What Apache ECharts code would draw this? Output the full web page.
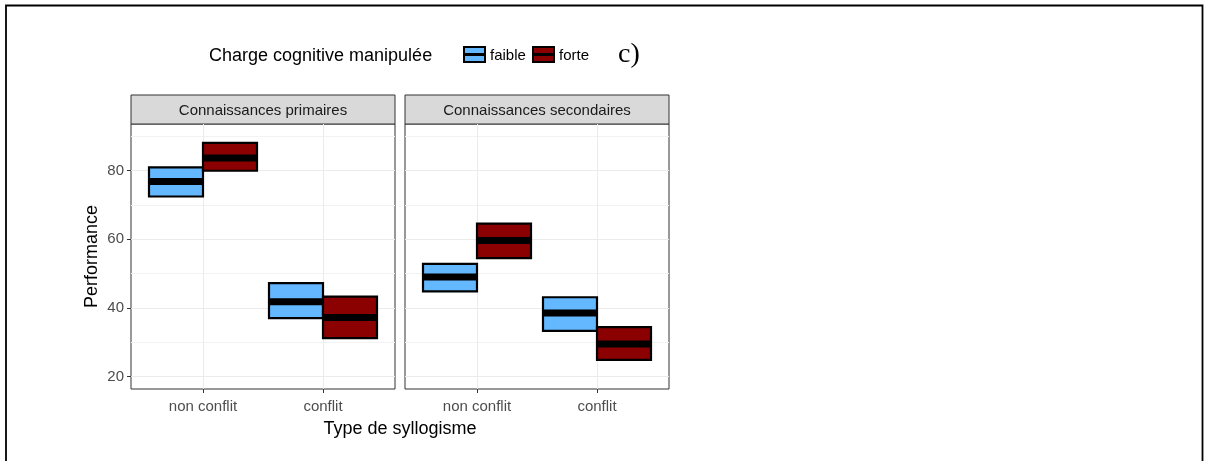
<!DOCTYPE html>
<html>
<head>
<meta charset="utf-8">
<script src="https://cdn.jsdelivr.net/npm/echarts@6/dist/echarts.min.js"></script>
<style>
  html, body { margin: 0; padding: 0; background: #fff; }
  #chart { width: 1206px; height: 461px; }
</style>
</head>
<body>
<div id="chart"></div>
<script>
// ---- data ----
const panels = ['Connaissances primaires', 'Connaissances secondaires'];
const categories = ['non conflit', 'conflit'];
const groups = ['faible', 'forte'];
// [low, mean, high] per category (non conflit, conflit)
const primairesFaible = [[72.4, 76.8, 80.9], [37.0, 41.8, 47.2]];
const primairesForte  = [[79.9, 83.6, 88.0], [31.2, 37.2, 43.3]];
const secondairesFaible = [[44.8, 49.0, 52.8], [33.3, 38.5, 43.1]];
const secondairesForte  = [[54.5, 59.6, 64.5], [24.9, 29.5, 34.4]];
const yTicks = [20, 40, 60, 80];
const yMinorTicks = [30, 50, 70, 90];
const xTicks = [1, 2];

// ---- style ----
const FONT = "'Liberation Sans', Arial, sans-serif";
const groupColors = { faible: '#63B8FF', forte: '#8B0000' };
const gridBoxes = [
  { left: 131, top: 124, width: 264, height: 265 },
  { left: 405, top: 124, width: 264, height: 265 }
];
const stripH = 29;
const yMin = 16.4, yMax = 93.5;
const halfW = 0.225;

function toItems(arr) {
  return arr.map((d, i) => [i + 1, d[0], d[1], d[2]]);
}

function makeRender(offset, color) {
  return function (params, api) {
    const x = api.value(0), lo = api.value(1), mid = api.value(2), hi = api.value(3);
    const tl = api.coord([x + offset - halfW, hi]);
    const br = api.coord([x + offset + halfW, lo]);
    const ml = api.coord([x + offset - halfW, mid]);
    const mr = api.coord([x + offset + halfW, mid]);
    return {
      type: 'group',
      children: [
        { type: 'rect', shape: { x: tl[0], y: tl[1], width: br[0] - tl[0], height: br[1] - tl[1] },
          style: { fill: color, stroke: '#000', lineWidth: 2.2 } },
        { type: 'line', shape: { x1: ml[0] + 1, y1: ml[1], x2: mr[0] - 1, y2: mr[1] },
          style: { stroke: '#000', lineWidth: 7 } }
      ]
    };
  };
}

const panelData = [
  { faible: primairesFaible, forte: primairesForte },
  { faible: secondairesFaible, forte: secondairesForte }
];

const grids = gridBoxes.map(b => Object.assign({}, b, {
  show: true, borderColor: '#333333', borderWidth: 1, backgroundColor: 'transparent'
}));

const xAxes = gridBoxes.map((b, i) => ({
  type: 'value', gridIndex: i, min: 0.4, max: 2.6,
  axisLine: { show: false },
  axisTick: { show: true, customValues: xTicks, length: 4, lineStyle: { color: '#333333', width: 1 } },
  axisLabel: { show: true, customValues: xTicks, margin: 10,
    formatter: v => categories[Math.round(v) - 1] || '',
    color: '#4D4D4D', fontSize: 15, fontFamily: FONT },
  splitLine: { show: true, lineStyle: { color: '#EBEBEB', width: 1 } }
}));

const yAxes = [];
gridBoxes.forEach((b, i) => {
  yAxes.push({
    type: 'value', gridIndex: i, min: yMin, max: yMax,
    axisLine: { show: false },
    axisTick: { show: i === 0, customValues: yTicks, length: 4, lineStyle: { color: '#333333', width: 1 } },
    axisLabel: { show: i === 0, customValues: yTicks, margin: 7,
      color: '#4D4D4D', fontSize: 15, fontFamily: FONT },
    splitLine: { show: true, lineStyle: { color: '#EBEBEB', width: 1 } }
  });
});
gridBoxes.forEach((b, i) => {
  yAxes.push({
    type: 'value', gridIndex: i, min: yMin, max: yMax,
    axisLine: { show: false },
    axisTick: { show: false, customValues: yMinorTicks },
    axisLabel: { show: false, customValues: yMinorTicks },
    splitLine: { show: true, lineStyle: { color: '#F2F2F2', width: 1 } }
  });
});

const series = [];
panelData.forEach((pd, i) => {
  groups.forEach((g, gi) => {
    series.push({
      type: 'custom', name: g, xAxisIndex: i, yAxisIndex: i,
      renderItem: makeRender(gi === 0 ? -halfW : halfW, groupColors[g]),
      encode: { x: 0, y: [1, 2, 3] },
      data: toItems(pd[g]),
      z: 5
    });
  });
});

function b0mid() { return gridBoxes[0].top + gridBoxes[0].height / 2; }

const graphic = [];
// outer frame
graphic.push({ type: 'polyline', shape: { points: [[6, 461], [6, 5.5], [1202.5, 5.5], [1202.5, 461]] },
  style: { stroke: '#000', lineWidth: 1.8, fill: null }, silent: true });
// strips
gridBoxes.forEach((b, i) => {
  graphic.push({ type: 'rect', shape: { x: b.left, y: b.top - stripH, width: b.width, height: stripH },
    style: { fill: '#D9D9D9', stroke: '#333333', lineWidth: 1 } });
  graphic.push({ type: 'text', x: b.left + b.width / 2, y: b.top - stripH / 2 + 1.5,
    style: { text: panels[i], align: 'center', verticalAlign: 'middle', fill: '#1A1A1A',
      fontSize: 15, fontFamily: FONT } });
});
// axis titles
graphic.push({ type: 'text', x: 92, y: b0mid(), rotation: Math.PI / 2,
  style: { text: 'Performance', align: 'center', verticalAlign: 'middle', fill: '#000',
    fontSize: 18, fontFamily: FONT } });
graphic.push({ type: 'text', x: (gridBoxes[0].left + gridBoxes[1].left + gridBoxes[1].width) / 2, y: 429,
  style: { text: 'Type de syllogisme', align: 'center', verticalAlign: 'middle', fill: '#000',
    fontSize: 18, fontFamily: FONT } });
// legend
graphic.push({ type: 'text', x: 209, y: 56,
  style: { text: 'Charge cognitive manipulée', align: 'left', verticalAlign: 'middle', fill: '#000',
    fontSize: 18, fontFamily: FONT } });
const legendX = [464, 533];
groups.forEach((g, gi) => {
  const x = legendX[gi];
  graphic.push({ type: 'rect', shape: { x: x, y: 47, width: 21, height: 15 },
    style: { fill: groupColors[g], stroke: '#000', lineWidth: 2 } });
  graphic.push({ type: 'line', shape: { x1: x, y1: 54.5, x2: x + 21, y2: 54.5 },
    style: { stroke: '#000', lineWidth: 3 } });
  graphic.push({ type: 'text', x: x + 26, y: 56,
    style: { text: g, align: 'left', verticalAlign: 'middle', fill: '#000',
      fontSize: 15, fontFamily: FONT } });
});
graphic.push({ type: 'text', x: 618, y: 55,
  style: { text: 'c)', align: 'left', verticalAlign: 'middle', fill: '#000',
    fontSize: 28, fontFamily: "'Liberation Serif', 'Times New Roman', serif" } });

const chart = echarts.init(document.getElementById('chart'), null, { renderer: 'canvas' });
chart.setOption({
  backgroundColor: '#ffffff',
  animation: false,
  grid: grids,
  xAxis: xAxes,
  yAxis: yAxes,
  series: series,
  graphic: graphic
});
</script>
</body>
</html>
